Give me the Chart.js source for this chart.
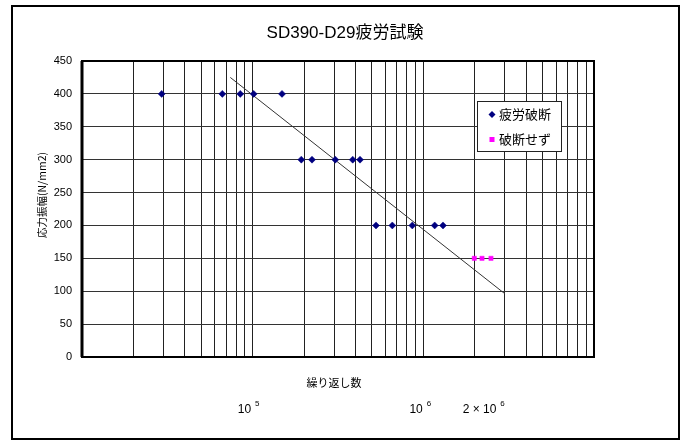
<!DOCTYPE html>
<html>
<head>
<meta charset="utf-8">
<script src="https://cdn.jsdelivr.net/npm/chart.js@4"></script>
<style>
  html, body { margin: 0; padding: 0; background: #fff; }
</style>
</head>
<body>
<canvas id="chart" width="688" height="441"></canvas>
<script>
const chartTitle = 'SD390-D29疲労試験';
const yTitle = '応力振幅(N/mm2)';
const xTitle = '繰り返し数';
const seriesNames = ['疲労破断', '破断せず'];

// 疲労破断
const failCycles = [29300, 66400, 84600, 101400, 148600, 192700, 222700, 305000, 385700, 425600, 527900, 657900, 861600, 1165700, 1304000];
const failStress = [400, 400, 400, 400, 400, 300, 300, 300, 300, 300, 200, 200, 200, 200, 200];

// 破断せず
const runoutCycles = [1989000, 2207000, 2491000];
const runoutStress = [150, 150, 150];

// 近似直線 (両端)
const trendCycles = [73950, 3009000];
const trendStress = [425, 96];

// 軸
const yMin = 0, yMax = 450, yStep = 50;
const xMin = 1e4, xMax = 1e7;
const decades = [1e4, 1e5, 1e6];
const mantissas = [1, 2, 3, 4, 5, 6, 7, 8, 9];
const xLabelValues = [1e5, 1e6, 2e6];
const xLabelBase = ['10', '10', '2 × 10'];
const xLabelExp = ['5', '6', '6'];

const gridValues = [];
decades.forEach(d => mantissas.forEach(m => gridValues.push(d * m)));
gridValues.push(xMax);

const JP = '"Noto Sans CJK JP", sans-serif';
const LAT = '"Liberation Sans", Arial, sans-serif';

const xy = (xs, ys) => xs.map((x, i) => ({ x: x, y: ys[i] }));

const decorPlugin = {
  id: 'decor',
  afterDraw(chart) {
    const ctx = chart.ctx;
    const ca = chart.chartArea;
    const xs = chart.scales.x;
    ctx.save();

    // 外枠
    ctx.strokeStyle = '#000';
    ctx.lineWidth = 2;
    ctx.strokeRect(12, 6, 667, 433);

    // プロットエリア枠
    ctx.strokeRect(ca.left, ca.top, ca.right - ca.left, ca.bottom - ca.top);
    ctx.lineWidth = 3;
    ctx.beginPath();
    ctx.moveTo(ca.left, ca.top);
    ctx.lineTo(ca.left, ca.bottom);
    ctx.stroke();

    ctx.fillStyle = '#000';
    // タイトル
    ctx.font = '17px "Liberation Sans", "Noto Sans CJK JP", sans-serif';
    ctx.textAlign = 'center';
    ctx.textBaseline = 'middle';
    ctx.fillText(chartTitle, 345, 33);

    // 軸タイトル
    ctx.font = '11px ' + JP;
    ctx.fillText(xTitle, 334, 383);
    ctx.save();
    ctx.translate(42, 195);
    ctx.rotate(-Math.PI / 2);
    ctx.font = '10.5px ' + JP;
    ctx.fillText(yTitle, 0, 0);
    ctx.restore();

    // 10^n ラベル
    const offs = [-4, -3, 9];
    xLabelValues.forEach((v, i) => {
      ctx.font = '12px ' + LAT;
      const base = xLabelBase[i];
      const bw = ctx.measureText(base).width;
      ctx.font = '8px ' + LAT;
      const ew = ctx.measureText(xLabelExp[i]).width;
      const total = bw + 4 + ew;
      const cx = xs.getPixelForValue(v) + offs[i];
      const left = cx - total / 2;
      ctx.textAlign = 'left';
      ctx.textBaseline = 'alphabetic';
      ctx.font = '12px ' + LAT;
      ctx.fillText(base, left, 413);
      ctx.font = '8px ' + LAT;
      ctx.fillText(xLabelExp[i], left + bw + 4, 406);
    });

    // 凡例
    const lx = 477, ly = 101, lw = 84, lh = 50;
    ctx.fillStyle = '#fff';
    ctx.fillRect(lx, ly, lw, lh);
    ctx.lineWidth = 1;
    ctx.strokeStyle = '#222';
    ctx.strokeRect(lx + 0.5, ly + 0.5, lw, lh);
    ctx.textAlign = 'left';
    ctx.textBaseline = 'middle';
    ctx.font = '13px ' + JP;
    seriesNames.forEach((name, i) => {
      const ds = chart.data.datasets[i];
      const my = ly + 13.5 + i * 25;
      ctx.fillStyle = ds.backgroundColor;
      if (ds.pointStyle === 'rectRot') {
        ctx.beginPath();
        ctx.moveTo(492, my - 3.5);
        ctx.lineTo(495.5, my);
        ctx.lineTo(492, my + 3.5);
        ctx.lineTo(488.5, my);
        ctx.closePath();
        ctx.fill();
      } else {
        ctx.fillRect(489.5, my - 2.5, 5, 5);
      }
      ctx.fillStyle = '#000';
      ctx.fillText(name, 499, my);
    });
    ctx.restore();
  }
};

new Chart(document.getElementById('chart'), {
  type: 'scatter',
  data: {
    datasets: [{
      label: seriesNames[0],
      data: xy(failCycles, failStress),
      pointStyle: 'rectRot',
      pointRadius: 3.5,
      backgroundColor: '#000080',
      borderColor: '#000080',
      borderWidth: 0.5
    }, {
      label: seriesNames[1],
      data: xy(runoutCycles, runoutStress),
      pointStyle: 'rect',
      pointRadius: 3,
      backgroundColor: '#ff00ff',
      borderColor: '#ff00ff',
      borderWidth: 0.5
    }, {
      label: 'trend',
      data: xy(trendCycles, trendStress),
      showLine: true,
      pointRadius: 0,
      borderColor: '#333',
      borderWidth: 1
    }]
  },
  options: {
    responsive: false,
    animation: false,
    layout: { padding: { left: 0, top: 61, right: 94, bottom: 0 } },
    plugins: {
      legend: { display: false },
      title: { display: false },
      tooltip: { enabled: false }
    },
    scales: {
      x: {
        type: 'logarithmic',
        min: xMin,
        max: xMax,
        afterBuildTicks: s => { s.ticks = gridValues.map(v => ({ value: v })); },
        afterFit: s => { s.height = 84; },
        ticks: { display: false, autoSkip: false },
        grid: { color: '#222', lineWidth: 1, drawTicks: false },
        border: { display: false }
      },
      y: {
        min: yMin,
        max: yMax,
        afterFit: s => { s.width = 82; },
        ticks: { stepSize: yStep, padding: 10, color: '#000', font: { family: LAT, size: 11 } },
        grid: { color: '#333', lineWidth: 1, drawTicks: false },
        border: { display: false }
      }
    }
  },
  plugins: [decorPlugin]
});
</script>
</body>
</html>
